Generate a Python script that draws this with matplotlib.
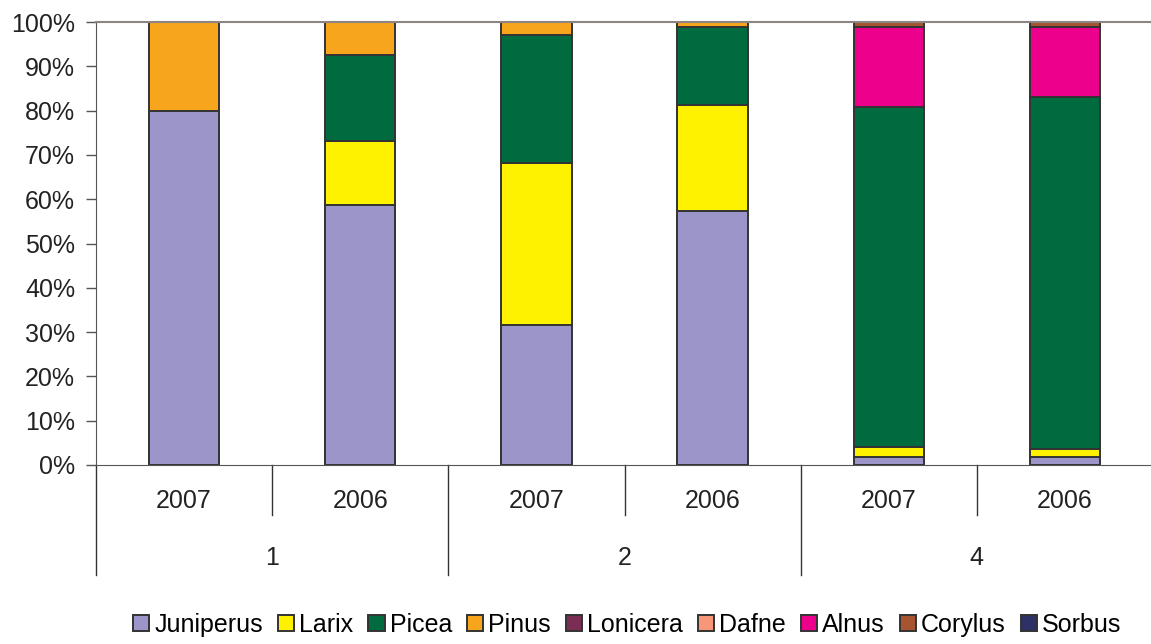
import numpy as np
import matplotlib.pyplot as plt
import matplotlib.transforms as mtransforms

plt.rcParams['font.family'] = ['Liberation Sans', 'DejaVu Sans']

years = ['2007', '2006', '2007', '2006', '2007', '2006']
groups = ['1', '2', '4']
species = ['Juniperus', 'Larix', 'Picea', 'Pinus', 'Lonicera', 'Dafne', 'Alnus', 'Corylus', 'Sorbus']
colors = ['#9b95c9', '#fff200', '#006b3f', '#f7a51c', '#7b2d54', '#f7977a', '#ec008c', '#a65530', '#2e3166']

# shares in %, per bar
juniperus = [80.0, 58.7, 31.6, 57.3, 1.8, 1.7]
larix     = [0.0, 14.4, 36.6, 24.0, 2.3, 1.8]
picea     = [0.0, 19.5, 28.9, 17.6, 76.7, 79.6]
pinus     = [20.0, 7.4, 2.9, 1.1, 0.0, 0.0]
lonicera  = [0, 0, 0, 0, 0, 0]
dafne     = [0, 0, 0, 0, 0, 0]
alnus     = [0.0, 0.0, 0.0, 0.0, 18.1, 15.8]
corylus   = [0.0, 0.0, 0.0, 0.0, 1.1, 1.1]
sorbus    = [0, 0, 0, 0, 0, 0]
values = [juniperus, larix, picea, pinus, lonicera, dafne, alnus, corylus, sorbus]

fs = 18

fig = plt.figure(figsize=(11.51, 6.44), dpi=100)
ax = fig.add_axes([96/1151, (644-465)/644, (1153-96)/1151, (465-22)/644])

x = np.arange(len(years))
bottom = np.zeros(len(years))
for name, col, vals in zip(species, colors, values):
    v = np.array(vals, dtype=float)
    ax.bar(x, v, 0.4, bottom=bottom, color=col, edgecolor='#333333', linewidth=1.4, label=name)
    bottom += v

ax.set_xlim(-0.5, 5.5)
ax.set_ylim(0, 100)
ax.set_yticks(np.arange(0, 101, 10))
ax.set_yticklabels([f'{t}%' for t in range(0, 101, 10)])
ax.tick_params(axis='y', length=7, width=1, color='#555555', labelsize=fs, labelcolor='#222222', pad=8)
ax.set_xticks([])
ax.spines['right'].set_visible(False)
ax.spines['top'].set_color('#8c8582')
ax.spines['top'].set_linewidth(1.5)
ax.spines['left'].set_color('#555555')
ax.spines['bottom'].set_color('#555555')

# multi level category axis
trans = mtransforms.blended_transform_factory(ax.transData, ax.transAxes)
for b in [0.5, 2.5, 4.5]:
    ax.plot([b, b], [0, -0.113], color='#333333', lw=1, transform=trans, clip_on=False)
for b in [-0.5, 1.5, 3.5, 5.5]:
    ax.plot([b, b], [0, -0.248], color='#333333', lw=1, transform=trans, clip_on=False)
for i, yr in enumerate(years):
    ax.text(i, -0.082, yr, transform=trans, ha='center', va='center', fontsize=fs, color='#222222')
for i, g in enumerate(groups):
    ax.text(2*i + 0.5, -0.21, g, transform=trans, ha='center', va='center', fontsize=fs, color='#222222')

leg = fig.legend(loc='center', bbox_to_anchor=(0.545, 0.03), ncol=9, frameon=False, fontsize=fs,
                 handlelength=0.65, handleheight=0.65, handletextpad=0.2, columnspacing=0.6)
for h in leg.legend_handles:
    h.set_edgecolor('#333333')

fig.savefig('out.png', dpi=100)
